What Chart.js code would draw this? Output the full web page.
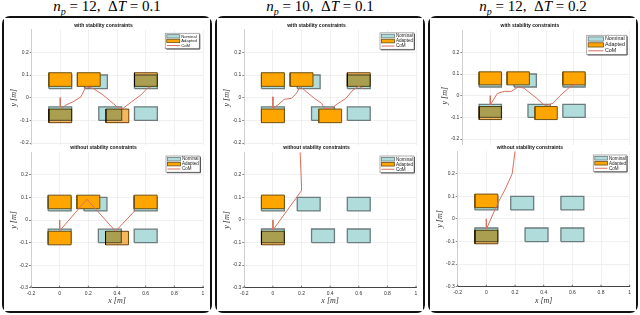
<!DOCTYPE html>
<html>
<head>
<meta charset="utf-8">
<script src="https://cdn.jsdelivr.net/npm/chart.js@4.4.1/dist/chart.umd.min.js"></script>
<style>
  html, body { margin: 0; padding: 0; background: #fff; }
  body { width: 640px; height: 315px; position: relative; overflow: hidden; }
  .panel { position: absolute; top: 16px; width: 210px; height: 297px; border: 2px solid #111; border-radius: 8px; box-sizing: border-box; }
  .ptitle { position: absolute; top: -3px; width: 210px; text-align: center; font-family: "Liberation Serif", serif; font-size: 15px; line-height: 18px; color: #000; white-space: nowrap; }
  .ptitle sub { font-size: 10px; line-height: 0; }
  canvas { position: absolute; }
</style>
</head>
<body>
<script>
// ---- data ----
const panelNp = [12, 10, 12];
const panelDt = [0.1, 0.1, 0.2];
const rowTitles = ['with stability constraints', 'without stability constraints'];
const legendLabels = ['Nominal', 'Adapted', 'CoM'];

const xTicks = [-0.2, 0, 0.2, 0.4, 0.6, 0.8, 1];
const yTicksTop = [-0.2, -0.1, 0, 0.1, 0.2];
const yTicksBottom = [-0.3, -0.2, -0.1, 0, 0.1, 0.2];

// foot size [m]
const footLength = 0.16;
const footWidth = 0.06;

// nominal footholds (same in every plot)
const nominalX = [0, 0.25, 0.6, 0, 0.35, 0.6];
const nominalY = [0.07, 0.07, 0.07, -0.07, -0.07, -0.07];

// panel 1: n_p = 12, dT = 0.1
const adaptedX1With = [0, 0.2, 0.6, 0, 0.4];
const adaptedY1With = [0.08, 0.08, 0.08, -0.08, -0.08];
const comX1With = [0, 0, 0.01, 0.04, 0.09, 0.145, 0.18, 0.23, 0.30, 0.37, 0.41, 0.44, 0.50, 0.565, 0.62, 0.64];
const comY1With = [0, -0.04, -0.047, -0.032, -0.018, 0.004, 0.048, 0.041, 0.012, -0.025, -0.047, -0.047, -0.018, 0.012, 0.048, 0.04];
const adaptedX1Without = [0, 0.2, 0.6, 0, 0.4];
const adaptedY1Without = [0.08, 0.08, 0.08, -0.08, -0.08];
const comX1Without = [0, 0, 0.19, 0.39, 0.53];
const comY1Without = [0, -0.048, 0.092, -0.05, 0.045];

// panel 2: n_p = 10, dT = 0.1
const adaptedX2With = [0, 0.2, 0.6, 0, 0.4];
const adaptedY2With = [0.08, 0.08, 0.08, -0.08, -0.08];
const comX2With = [0, 0, 0.035, 0.08, 0.13, 0.165, 0.19, 0.235, 0.29, 0.34, 0.36, 0.41, 0.455, 0.51, 0.56, 0.6, 0.63];
const comY2With = [0.004, -0.047, -0.032, -0.007, -0.003, 0.02, 0.049, 0.026, -0.003, -0.025, -0.047, -0.047, -0.025, -0.003, 0.034, 0.05, 0.04];
const adaptedX2Without = [0, 0];
const adaptedY2Without = [0.08, -0.08];
const comX2Without = [0, 0, 0.2, 0.2, 0.19];
const comY2Without = [0, -0.045, 0.13, 0.15, 0.3];

// panel 3: n_p = 12, dT = 0.2
const adaptedX3With = [0, 0.2, 0.6, 0, 0.4];
const adaptedY3With = [0.08, 0.08, 0.08, -0.08, -0.08];
const comX3With = [0, 0, 0.05, 0.1, 0.15, 0.2, 0.24, 0.32, 0.38, 0.4, 0.45, 0.5, 0.57, 0.6, 0.63];
const comY3With = [0, -0.043, 0.01, 0.02, 0.02, 0.04, 0.035, -0.005, -0.04, -0.045, -0.035, 0, 0.04, 0.05, 0.05];
const adaptedX3Without = [0, 0];
const adaptedY3Without = [0.08, -0.08];
const comX3Without = [0, 0, 0.08, 0.13, 0.18, 0.2];
const comY3Without = [0, -0.045, 0.07, 0.13, 0.2, 0.3];

const plots = [
  [adaptedX1With, adaptedY1With, comX1With, comY1With],
  [adaptedX1Without, adaptedY1Without, comX1Without, comY1Without],
  [adaptedX2With, adaptedY2With, comX2With, comY2With],
  [adaptedX2Without, adaptedY2Without, comX2Without, comY2Without],
  [adaptedX3With, adaptedY3With, comX3With, comY3With],
  [adaptedX3Without, adaptedY3Without, comX3Without, comY3Without]
];

// ---- look ----
const NOMINAL_FILL = '#b0dcdc';
const NOMINAL_EDGE = '#6c7c7c';
const ADAPTED_FILL = '#ffa500';
const ADAPTED_BLEND_FILL = '#f6b85e';
const ADAPTED_EDGE = '#6e5214';
const COM_COLOR = '#d8705e';

// adapted feet drawn with a multiply blend (dark overlap with nominal)
const darkOverlap = [[2, 3, 4], [4], [2], [1], [3], [1]];

// page positions: canvas left/top/height, plot area, subplot title y
const panelLeft = [2, 215, 428];
const layouts = [
  { cl: 4, ct: 18, ch: 160, al: 31.7, ar: 203, at: 29.6, ab: 165.8, ty: 26, lw: 34, lr: 3.7, lt: 3.7, rh: 4.6 },
  { cl: 4, ct: 145, ch: 166, al: 31, ar: 203, at: 152.3, ab: 287.7, ty: 148, lw: 34, lr: 3, lt: 3.7, rh: 4.9 },
  { cl: 217, ct: 18, ch: 160, al: 244.3, ar: 416, at: 29.6, ab: 165.8, ty: 26, lw: 34, lr: 2, lt: 3.2, rh: 5 },
  { cl: 217, ct: 145, ch: 166, al: 244.3, ar: 416, at: 152.2, ab: 287.7, ty: 148, lw: 34, lr: 2, lt: 3.8, rh: 5 },
  { cl: 430, ct: 18, ch: 160, al: 462.4, ar: 629.8, at: 30.6, ab: 160.8, ty: 26, lw: 40, lr: 3.1, lt: 4.7, rh: 5.9 },
  { cl: 430, ct: 145, ch: 166, al: 457.7, ar: 629.7, at: 151.2, ab: 286.7, ty: 148, lw: 33.4, lr: 3, lt: 3.8, rh: 5 }
];
const CANVAS_W = 206;
const X_TITLE_Y = 300.6;

// ---- panels and titles ----
panelLeft.forEach((left, p) => {
  const box = document.createElement('div');
  box.className = 'panel';
  box.style.left = left + 'px';
  document.body.appendChild(box);
  const t = document.createElement('div');
  t.className = 'ptitle';
  t.style.left = left + 'px';
  t.innerHTML = '<i>n</i><sub><i>p</i></sub> = ' + panelNp[p] + ',&nbsp; &Delta;<i>T</i> = ' + panelDt[p];
  document.body.appendChild(t);
});

// ---- plugins ----
function nextDrawn(chart, index) {
  // datasets are drawn from the end of the sorted list to the start
  const metas = chart.getSortedVisibleDatasetMetas();
  const pos = index === null ? metas.length : metas.findIndex(m => m.index === index);
  const m = metas[pos - 1];
  return m ? chart.data.datasets[m.index] : null;
}
function setBlend(chart, ds) {
  chart.ctx.globalCompositeOperation = ds && ds.blend ? 'multiply' : 'source-over';
}
const blendPlugin = {
  id: 'blend',
  beforeDraw(chart) {
    const ctx = chart.ctx;
    ctx.save();
    ctx.fillStyle = '#fff';
    ctx.fillRect(0, 0, chart.width, chart.height);
    ctx.restore();
  },
  beforeDatasetsDraw(chart) { setBlend(chart, nextDrawn(chart, null)); },
  afterDatasetDraw(chart, args) { setBlend(chart, nextDrawn(chart, args.index)); },
  afterDatasetsDraw(chart) { chart.ctx.globalCompositeOperation = 'source-over'; }
};

const legendPlugin = {
  id: 'footLegend',
  afterDraw(chart, args, opts) {
    const { ctx, chartArea } = chart;
    const w = opts.width, rh = opts.rowHeight;
    const h = rh * 3 + 1.5;
    const x0 = chartArea.right - opts.right - w;
    const y0 = chartArea.top + opts.top;
    ctx.save();
    ctx.fillStyle = '#fff';
    ctx.fillRect(x0, y0, w, h);
    ctx.strokeStyle = '#9a9a9a';
    ctx.lineWidth = 0.8;
    ctx.strokeRect(x0, y0, w, h);
    ctx.strokeStyle = '#555';
    ctx.lineWidth = 1;
    ctx.beginPath();
    ctx.moveTo(x0 + w + 0.5, y0 + 1);
    ctx.lineTo(x0 + w + 0.5, y0 + h + 0.5);
    ctx.lineTo(x0 + 1, y0 + h + 0.5);
    ctx.stroke();
    const sw = w * 0.38;
    const fs = rh * 0.92;
    ctx.font = fs + 'px "Liberation Sans", sans-serif';
    ctx.textBaseline = 'middle';
    legendLabels.forEach((label, i) => {
      const yc = y0 + 0.75 + rh * (i + 0.5);
      const sx = x0 + 1.5;
      if (i < 2) {
        ctx.fillStyle = i === 0 ? NOMINAL_FILL : ADAPTED_FILL;
        ctx.fillRect(sx, yc - rh * 0.36, sw, rh * 0.72);
        ctx.strokeStyle = i === 0 ? NOMINAL_EDGE : ADAPTED_EDGE;
        ctx.lineWidth = 0.8;
        ctx.strokeRect(sx, yc - rh * 0.36, sw, rh * 0.72);
      } else {
        ctx.strokeStyle = COM_COLOR;
        ctx.lineWidth = 1;
        ctx.beginPath();
        ctx.moveTo(sx, yc);
        ctx.lineTo(sx + sw, yc);
        ctx.stroke();
      }
      ctx.fillStyle = '#222';
      ctx.fillText(label, sx + sw + 1.5, yc);
    });
    ctx.restore();
  }
};

// small inward tick marks on the x axis of the lower plots
const innerTicksPlugin = {
  id: 'innerTicks',
  afterDraw(chart, args, opts) {
    if (!opts.on) return;
    const { ctx, scales } = chart;
    const yb = scales.y.getPixelForValue(scales.y.min);
    ctx.save();
    ctx.strokeStyle = '#444';
    ctx.lineWidth = 0.8;
    xTicks.forEach(v => {
      const px = scales.x.getPixelForValue(v);
      ctx.beginPath();
      ctx.moveTo(px, yb);
      ctx.lineTo(px, yb - 2);
      ctx.stroke();
    });
    ctx.restore();
  }
};

// ---- datasets ----
function footDataset(cx, cy, adapted, multiply) {
  const hx = footLength / 2, hy = footWidth / 2;
  return {
    data: [
      { x: cx - hx, y: cy - hy }, { x: cx + hx, y: cy - hy },
      { x: cx + hx, y: cy + hy }, { x: cx - hx, y: cy + hy },
      { x: cx - hx, y: cy - hy }
    ],
    showLine: true,
    fill: 'shape',
    tension: 0,
    pointRadius: 0,
    backgroundColor: adapted ? (multiply ? ADAPTED_BLEND_FILL : ADAPTED_FILL) : NOMINAL_FILL,
    borderColor: adapted ? ADAPTED_EDGE : NOMINAL_EDGE,
    borderWidth: adapted ? 1 : 1.3,
    order: adapted ? 1 : 2,
    blend: multiply
  };
}

const tickFont = { family: '"Liberation Sans", sans-serif', size: 5 };
const axisTitleFont = { family: '"Liberation Serif", serif', style: 'italic', size: 8 };
const fmt = v => String(Math.round(v * 10) / 10);

function makeChart(i) {
  const L = layouts[i];
  const isTop = i % 2 === 0;
  const [ax, ay, cx, cy] = plots[i];

  const cv = document.createElement('canvas');
  cv.width = CANVAS_W;
  cv.height = L.ch;
  cv.style.left = L.cl + 'px';
  cv.style.top = L.ct + 'px';
  document.body.appendChild(cv);

  const datasets = [];
  datasets.push({
    data: cx.map((x, k) => ({ x: x, y: cy[k] })),
    showLine: true, fill: false, tension: 0, pointRadius: 0,
    borderColor: COM_COLOR, borderWidth: 1, order: 0
  });
  ax.forEach((x, k) => datasets.push(footDataset(x, ay[k], true, darkOverlap[i].includes(k))));
  nominalX.forEach((x, k) => datasets.push(footDataset(x, nominalY[k], false, false)));

  const yAxisW = L.al - L.cl;
  const tRel = L.ty - L.ct;
  const areaTopRel = L.at - L.ct;
  const areaBottomRel = L.ab - L.ct;
  const yTicks = isTop ? yTicksTop : yTicksBottom;

  return new Chart(cv, {
    type: 'scatter',
    data: { datasets: datasets },
    plugins: [blendPlugin, innerTicksPlugin, legendPlugin],
    options: {
      responsive: false,
      animation: false,
      devicePixelRatio: 1,
      events: [],
      layout: {
        padding: {
          left: 0, top: 0,
          right: CANVAS_W - (L.ar - L.cl),
          bottom: isTop ? L.ch - areaBottomRel : 0
        }
      },
      plugins: {
        legend: { display: false },
        tooltip: { enabled: false },
        title: {
          display: true,
          text: rowTitles[isTop ? 0 : 1],
          color: '#111',
          font: { family: '"Liberation Sans", sans-serif', size: 5, weight: 'bold', lineHeight: 1.2 },
          padding: { top: tRel - 3, bottom: areaTopRel - tRel - 3 }
        },
        footLegend: { width: L.lw, right: L.lr, top: L.lt, rowHeight: L.rh },
        innerTicks: { on: !isTop }
      },
      scales: {
        x: {
          type: 'linear', min: -0.2, max: 1,
          afterBuildTicks: s => { s.ticks = xTicks.map(v => ({ value: v })); },
          afterFit: s => { s.height = isTop ? 0 : L.ch - areaBottomRel; },
          grid: { color: '#ececec', lineWidth: 0.8, drawTicks: false },
          border: { display: !isTop, color: '#444', width: 1 },
          ticks: { display: !isTop, font: tickFont, color: '#333', padding: 2.5, autoSkip: false, maxRotation: 0, callback: fmt },
          title: {
            display: !isTop, text: 'x [m]', color: '#333', font: axisTitleFont,
            padding: { top: 0, bottom: L.ch - (X_TITLE_Y - L.ct) - 4.8 }
          }
        },
        y: {
          type: 'linear', min: -0.3, max: 0.3,
          afterBuildTicks: s => { s.ticks = yTicks.map(v => ({ value: v })); },
          afterFit: s => { s.width = yAxisW; },
          grid: { color: '#ececec', lineWidth: 0.8, drawTicks: true, tickLength: 2, tickColor: '#666' },
          border: { display: true, color: '#cfcfcf', width: 1 },
          ticks: { font: tickFont, color: '#333', padding: 1, autoSkip: false, callback: fmt },
          title: {
            display: true, text: 'y [m]', color: '#333', font: axisTitleFont,
            padding: { top: yAxisW - 17.5 - 4.8, bottom: 0 }
          }
        }
      }
    }
  });
}

for (let i = 0; i < plots.length; i++) makeChart(i);
</script>
</body>
</html>
